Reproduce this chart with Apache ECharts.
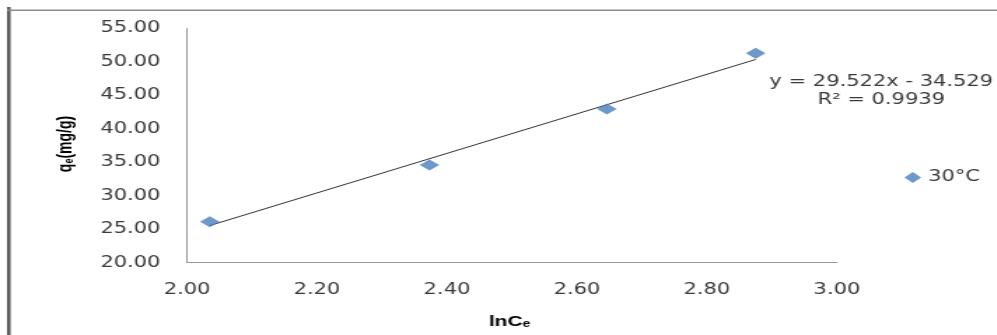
<!DOCTYPE html>
<html>
<head>
<meta charset="utf-8">
<script src="https://cdn.jsdelivr.net/npm/echarts@6/dist/echarts.min.js"></script>
<style>
html,body{margin:0;padding:0;background:#fff;overflow:hidden;width:997px;height:335px;}
#chart{width:712px;height:335px;transform:scaleX(1.4);transform-origin:0 0;}
</style>
</head>
<body>
<div id="chart"></div>
<script>
// ---- data ----
const seriesName = '30°C';
const xVals = [2.035, 2.373, 2.646, 2.875];
const yVals = [26.12, 34.59, 42.95, 51.27];
const trendSlope = 29.522;
const trendIntercept = -34.529;
const trendR2 = '0.9939';
const xAxisMin = 2.0, xAxisMax = 3.0, xAxisStep = 0.2;
const yAxisMin = 20, yAxisMax = 55, yAxisStep = 5;
const xTitle = ['lnC', 'e'];
const yTitle = ['q', 'e', '(mg/g)'];

const points = xVals.map((x, i) => [x, yVals[i]]);
const xFirst = xVals[0], xLast = xVals[xVals.length - 1];
const trend = [[xFirst, trendSlope * xFirst + trendIntercept], [xLast, trendSlope * xLast + trendIntercept]];
const eqText = 'y = ' + trendSlope.toFixed(3) + 'x - ' + Math.abs(trendIntercept).toFixed(3) + '\nR² = ' + trendR2;

const chart = echarts.init(document.getElementById('chart'), null, {renderer: 'canvas'});
const txt = '#3a3a3a';
chart.setOption({
  animation: false,
  backgroundColor: '#fff',
  grid: {left: 133.6, right: 114.2, top: 28.3, bottom: 72.3, containLabel: false},
  xAxis: {
    type: 'value', min: xAxisMin, max: xAxisMax, interval: xAxisStep,
    axisLine: {show: true, lineStyle: {color: '#9a9a9a', width: 1}},
    axisTick: {show: false},
    splitLine: {show: false},
    axisLabel: {color: txt, fontFamily: 'DejaVu Sans', fontSize: 15, margin: 20,
      formatter: v => v.toFixed(2)}
  },
  yAxis: {
    type: 'value', min: yAxisMin, max: yAxisMax, interval: yAxisStep,
    axisLine: {show: true, lineStyle: {color: '#9a9a9a', width: 1}},
    axisTick: {show: false},
    splitLine: {show: false},
    axisLabel: {color: txt, fontFamily: 'DejaVu Sans', fontSize: 15, margin: 19,
      formatter: v => v.toFixed(2)}
  },
  legend: {
    show: true, orient: 'vertical', left: 646, top: 170, padding: 0,
    itemWidth: 12, itemHeight: 11, itemGap: 5,
    data: [{name: seriesName, icon: 'diamond'}],
    textStyle: {color: txt, fontFamily: 'DejaVu Sans', fontSize: 15}
  },
  series: [
    {
      name: 'trend', type: 'line', data: trend, symbol: 'none', silent: true,
      lineStyle: {color: '#333333', width: 1}, z: 2
    },
    {
      name: seriesName, type: 'scatter', data: points, symbol: 'diamond',
      symbolSize: [14, 11], itemStyle: {color: '#4A7EBB'}, z: 3
    }
  ],
  graphic: [
    {type: 'rect', shape: {x: 5, y: 7, width: 2.6, height: 340}, style: {fill: '#5e5e5e'}, silent: true},
    {type: 'rect', shape: {x: 5, y: 9.6, width: 720, height: 1.4}, style: {fill: '#8c8c8c'}, silent: true},
    {
      type: 'text', x: 629.5, y: 73, silent: true,
      style: {text: eqText, fill: txt, font: '15px "DejaVu Sans"', textAlign: 'center', textVerticalAlign: 'top', lineHeight: 18}
    },
    {
      type: 'text', x: 46, y: 144, rotation: Math.PI / 2, silent: true,
      style: {
        text: '{a|' + yTitle[0] + '}{b|' + yTitle[1] + '}{a|' + yTitle[2] + '}',
        textAlign: 'center', textVerticalAlign: 'middle',
        rich: {
          a: {fontFamily: 'Liberation Sans', fontWeight: 'bold', fontSize: 14, color: '#222', lineHeight: 17, verticalAlign: 'bottom'},
          b: {fontFamily: 'Liberation Sans', fontWeight: 'bold', fontSize: 9, color: '#222', lineHeight: 13, verticalAlign: 'bottom'}
        }
      }
    },
    {
      type: 'text', x: 364, y: 320, silent: true,
      style: {
        text: '{a|' + xTitle[0] + '}{b|' + xTitle[1] + '}',
        textAlign: 'center', textVerticalAlign: 'middle',
        rich: {
          a: {fontFamily: 'Liberation Sans', fontWeight: 'bold', fontSize: 15, color: '#222', lineHeight: 19, verticalAlign: 'bottom'},
          b: {fontFamily: 'Liberation Sans', fontWeight: 'bold', fontSize: 10, color: '#222', lineHeight: 14, verticalAlign: 'bottom'}
        }
      }
    }
  ]
});
</script>
</body>
</html>
